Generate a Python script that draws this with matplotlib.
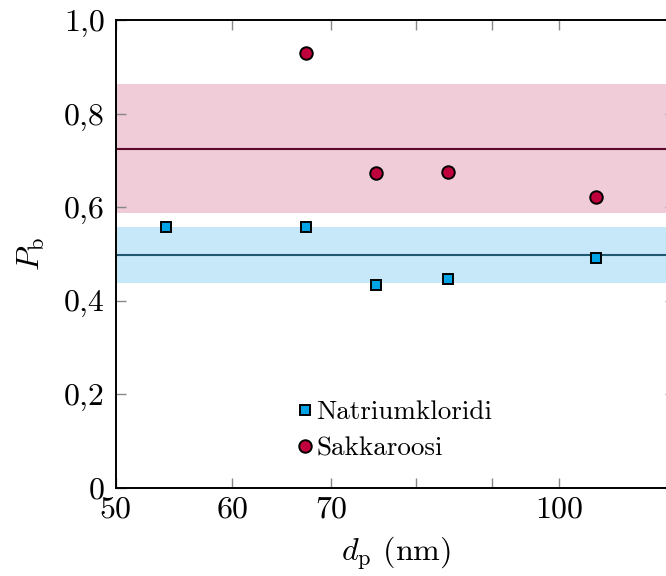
import numpy as np
import matplotlib
matplotlib.use("Agg")
import matplotlib.pyplot as plt
from matplotlib.ticker import FixedLocator, FuncFormatter, NullFormatter

# --- DATA ---
d_nacl = [54.1, 67.3, 75.1, 84.1, 105.9]        # nm
p_nacl = [0.558, 0.558, 0.434, 0.446, 0.491]
d_sucrose = [67.3, 75.1, 84.1, 105.9]           # nm
p_sucrose = [0.930, 0.673, 0.676, 0.623]

x_major = [50, 60, 70, 100]
x_minor = [80, 90]
y_ticks = [0.0, 0.2, 0.4, 0.6, 0.8, 1.0]

# --- STYLE ---
plt.rcParams["font.family"] = "serif"
plt.rcParams["font.serif"] = ["cmr10"]
plt.rcParams["mathtext.fontset"] = "cm"
plt.rcParams["axes.unicode_minus"] = False

NACL_FILL = "#00a3e6"
NACL_BAND = "#c7e8f8"
NACL_LINE = "#1d5870"
SUC_FILL = "#c0003c"
SUC_BAND = "#f0cbd8"
SUC_LINE = "#5c0a2c"

fig = plt.figure(figsize=(6.66, 5.76), dpi=100)
ax = fig.add_axes([0.1737, 0.1536, 0.8405, 0.811])

# mean +- std bands for both series
for p, band, line in ((p_sucrose, SUC_BAND, SUC_LINE), (p_nacl, NACL_BAND, NACL_LINE)):
    mean = np.mean(p)
    std = np.std(p, ddof=1)
    ax.axhspan(mean - std, mean + std, color=band, lw=0, zorder=1)
    ax.axhline(mean, color=line, lw=1.5, zorder=2)

ax.plot(d_nacl, p_nacl, ls="none", marker="s", ms=7.8, mfc=NACL_FILL,
        mec="black", mew=1.4, zorder=3, label="Natriumkloridi")
ax.plot(d_sucrose, p_sucrose, ls="none", marker="o", ms=9, mfc=SUC_FILL,
        mec="black", mew=1.4, zorder=3, label="Sakkaroosi")

ax.set_xscale("log")
ax.set_xlim(50, 120)
ax.set_ylim(0, 1.0)

ax.xaxis.set_major_locator(FixedLocator(x_major))
ax.xaxis.set_minor_locator(FixedLocator(x_minor))
ax.xaxis.set_major_formatter(FuncFormatter(lambda v, pos: f"{v:.0f}"))
ax.xaxis.set_minor_formatter(NullFormatter())
ax.yaxis.set_major_locator(FixedLocator(y_ticks))
ax.yaxis.set_major_formatter(FuncFormatter(
    lambda v, pos: "0" if v == 0 else f"{v:.1f}".replace(".", ",")))

ax.tick_params(which="both", direction="in", top=True, right=True,
               length=7.5, width=1.0, color="#888888", labelsize=23)
ax.tick_params(axis="y", pad=8)
ax.tick_params(axis="x", pad=6)
for s in ax.spines.values():
    s.set_linewidth(1.4)

ax.set_xlabel(r"$d_\mathrm{p}$ (nm)", fontsize=23, labelpad=8)
ax.set_ylabel(r"$P_\mathrm{b}$", fontsize=23, labelpad=12)

ax.legend(loc="upper left", bbox_to_anchor=(0.305, 0.21), frameon=False,
          fontsize=19.5, handlelength=0.6, handletextpad=0.1,
          labelspacing=0.45, borderaxespad=0)

fig.savefig("out.png", dpi=100)
